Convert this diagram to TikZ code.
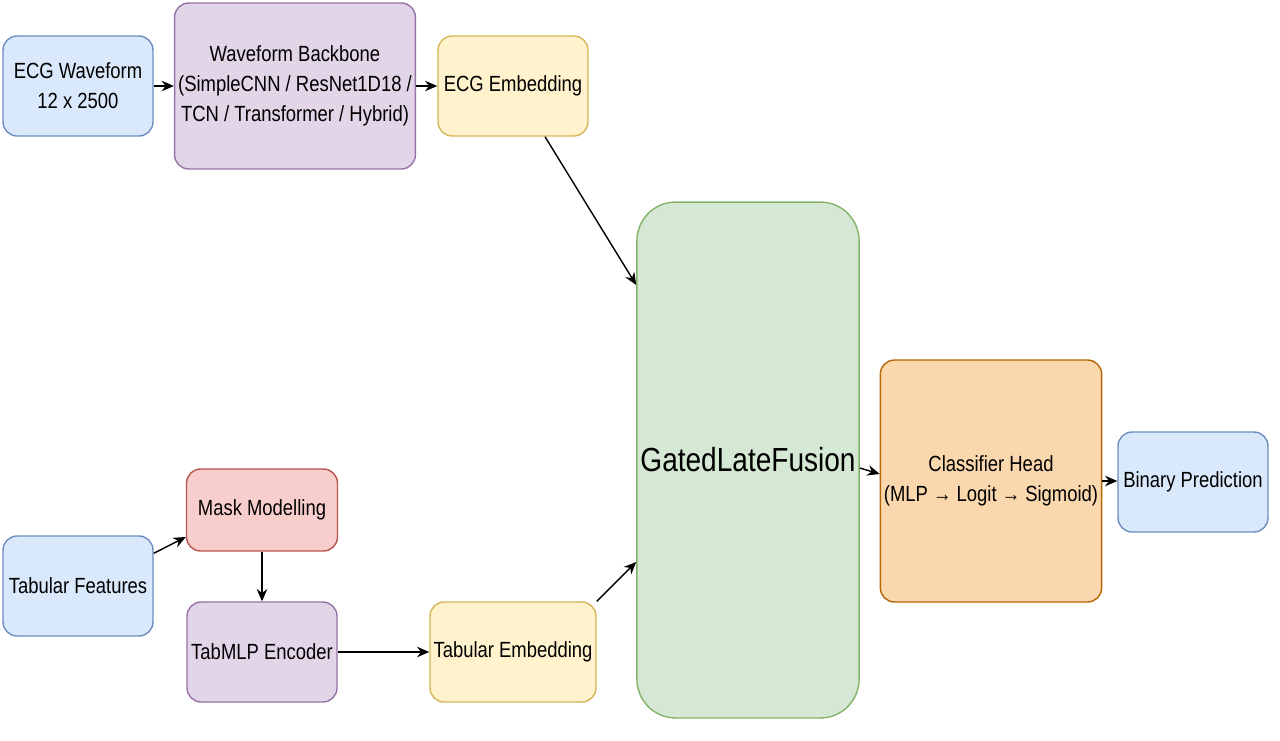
\documentclass[tikz,border=0pt]{standalone}
\usepackage{fontspec}
\setmainfont{Liberation Sans}[FakeStretch=0.84]
\usetikzlibrary{arrows.meta,positioning}
\definecolor{bluef}{HTML}{DAE8FC}\definecolor{blued}{HTML}{6C8EBF}
\definecolor{purpf}{HTML}{E1D5E7}\definecolor{purpd}{HTML}{9673A6}
\definecolor{yelf}{HTML}{FFF2CC}\definecolor{yeld}{HTML}{D6B656}
\definecolor{grnf}{HTML}{D5E8D4}\definecolor{grnd}{HTML}{82B366}
\definecolor{orf}{HTML}{FAD7AC}\definecolor{ord}{HTML}{B46504}
\definecolor{redf}{HTML}{F8CECC}\definecolor{redd}{HTML}{B85450}
\tikzset{
  box/.style={draw,rounded corners=8pt,thick,align=center,inner sep=2pt,font=\fontsize{12.5}{17}\selectfont},
  inp/.style={box,fill=bluef,draw=blued},
  enc/.style={box,fill=purpf,draw=purpd},
  emb/.style={box,fill=yelf,draw=yeld},
  arrow/.style={-{Stealth[length=7pt,width=6pt]},thick,draw=black}
}
\begin{document}
\begin{tikzpicture}[x=0.02cm,y=-0.02cm]
    \useasboundingbox (0,0) rectangle (1280,740);
    \node (ecg) [inp,minimum width=3cm,minimum height=2cm] at (78,86) {ECG Waveform\\12 x 2500};
    \node (bb) [enc,minimum width=4.32cm,minimum height=3.32cm] at (295,86) {Waveform Backbone\\(SimpleCNN / ResNet1D18 /\\TCN / Transformer / Hybrid)};
    \node (ecgemb) [emb,minimum width=3cm,minimum height=2cm] at (513,86) {ECG Embedding};
    \node (fus) [box,fill=grnf,draw=grnd,rounded corners=22pt,minimum width=4.34cm,minimum height=10.32cm,font=\fontsize{19}{23}\selectfont] at (748,460) {GatedLateFusion};
    \node (head) [box,fill=orf,draw=ord,minimum width=3.66cm,minimum height=4.84cm] at (991,481) {Classifier Head\\(MLP → Logit → Sigmoid)};
    \node (pred) [inp,minimum width=3cm,minimum height=2cm] at (1193,482) {Binary Prediction};
    \node (mask) [box,fill=redf,draw=redd,minimum width=3.02cm,minimum height=1.64cm] at (262,510) {Mask Modelling};
    \node (tab) [inp,minimum width=3cm,minimum height=2cm] at (78,586) {Tabular Features};
    \node (mlp) [enc,minimum width=3cm,minimum height=2cm] at (262,652) {TabMLP Encoder};
    \node (tabemb) [emb,minimum width=3cm,minimum height=2cm] at (513,652) {Tabular Embedding};

    \draw[arrow] (ecg) -- (bb);
    \draw[arrow] (bb) -- (ecgemb);
    \draw[arrow] (ecgemb.south) ++(32,0) coordinate (e1) (e1) -- (fus.north west |- 0,285);
    \draw[arrow] (tab.north east) ++(0,18) coordinate (t1) (t1) -- (mask.west |- 0,537);
    \draw[arrow] (mask) -- (mlp);
    \draw[arrow] (mlp) -- (tabemb);
    \draw[arrow] (tabemb.north east) -- (fus.west |- 0,562);
    \draw[arrow] (fus.east |- 0,468) -- (head.west |- 0,474);
    \draw[arrow] (head.east |- 0,481) -- (pred.west |- 0,481);
\end{tikzpicture}
\end{document}
